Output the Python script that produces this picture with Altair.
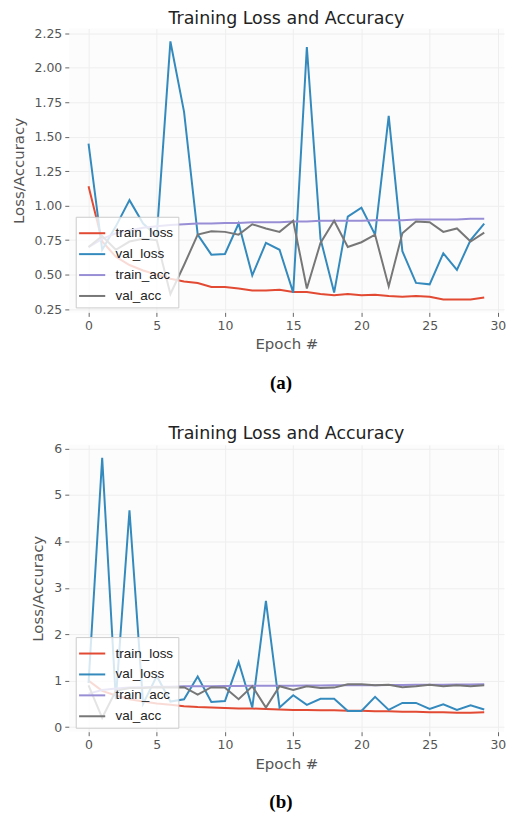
import altair as alt
import pandas as pd

epochs = list(range(30))
series_names = ["train_loss", "val_loss", "train_acc", "val_acc"]
series_colors = ["#E24A33", "#348ABD", "#988ED5", "#777777"]
x_ticks = [0, 5, 10, 15, 20, 25, 30]

# Panel (a)
a_train_loss = [1.14, 0.74, 0.63, 0.57, 0.53, 0.50, 0.47, 0.45, 0.44, 0.41,
                0.41, 0.40, 0.385, 0.385, 0.39, 0.375, 0.375, 0.36, 0.35, 0.36,
                0.35, 0.355, 0.345, 0.34, 0.345, 0.34, 0.32, 0.32, 0.32, 0.335]
a_val_loss = [1.45, 0.68, 0.85, 1.04, 0.87, 0.78, 2.19, 1.68, 0.79, 0.645,
              0.65, 0.87, 0.495, 0.73, 0.68, 0.37, 2.15, 0.76, 0.37, 0.92,
              0.985, 0.79, 1.65, 0.67, 0.44, 0.43, 0.655, 0.535, 0.75, 0.87]
a_train_acc = [0.70, 0.76, 0.80, 0.82, 0.84, 0.85, 0.86, 0.865, 0.87, 0.87,
               0.875, 0.875, 0.88, 0.88, 0.88, 0.885, 0.885, 0.89, 0.89, 0.89,
               0.89, 0.895, 0.895, 0.895, 0.90, 0.90, 0.90, 0.90, 0.905, 0.905]
a_val_acc = [0.70, 0.78, 0.68, 0.74, 0.76, 0.75, 0.36, 0.57, 0.79, 0.815,
             0.81, 0.79, 0.865, 0.835, 0.81, 0.89, 0.40, 0.73, 0.89, 0.70,
             0.735, 0.79, 0.415, 0.80, 0.885, 0.88, 0.81, 0.835, 0.74, 0.805]
a_y_ticks = [0.25, 0.5, 0.75, 1.0, 1.25, 1.5, 1.75, 2.0, 2.25]

# Panel (b)
b_train_loss = [1.00, 0.78, 0.68, 0.60, 0.55, 0.51, 0.48, 0.45, 0.43, 0.42,
                0.41, 0.40, 0.40, 0.39, 0.38, 0.37, 0.37, 0.36, 0.36, 0.35,
                0.35, 0.34, 0.34, 0.33, 0.33, 0.32, 0.32, 0.31, 0.31, 0.32]
b_val_loss = [0.95, 5.80, 0.60, 4.67, 0.50, 1.10, 0.55, 0.60, 1.09, 0.54,
              0.56, 1.40, 0.42, 2.72, 0.42, 0.685, 0.48, 0.61, 0.61, 0.345,
              0.345, 0.65, 0.37, 0.52, 0.52, 0.39, 0.49, 0.37, 0.47, 0.38]
b_train_acc = [0.72, 0.80, 0.83, 0.85, 0.86, 0.87, 0.87, 0.88, 0.88, 0.88,
               0.885, 0.885, 0.89, 0.89, 0.89, 0.89, 0.895, 0.895, 0.90, 0.90,
               0.90, 0.90, 0.905, 0.905, 0.91, 0.91, 0.91, 0.915, 0.915, 0.92]
b_val_acc = [0.90, 0.20, 0.78, 0.84, 0.84, 0.86, 0.85, 0.86, 0.70, 0.86,
             0.85, 0.60, 0.88, 0.42, 0.88, 0.80, 0.88, 0.84, 0.85, 0.92,
             0.92, 0.90, 0.91, 0.86, 0.88, 0.91, 0.88, 0.90, 0.88, 0.90]
b_y_ticks = [0, 1, 2, 3, 4, 5, 6]

W = 437


def panel(values, ydomain, yticks, yfmt, caption, H, legend_y):
    rows = []
    for name, vals in zip(series_names, values):
        for e, v in zip(epochs, vals):
            rows.append({"epoch": e, "value": v, "series": name})
    df = pd.DataFrame(rows)
    lines = alt.Chart(df).mark_line(strokeWidth=2, clip=True).encode(
        x=alt.X("epoch:Q",
                scale=alt.Scale(domain=[-1.45, 30.45], nice=False, zero=False),
                axis=alt.Axis(values=x_ticks, title="Epoch #", format="d")),
        y=alt.Y("value:Q",
                scale=alt.Scale(domain=ydomain, nice=False, zero=False),
                axis=alt.Axis(values=yticks, format=yfmt, title="Loss/Accuracy")),
        color=alt.Color("series:N",
                        scale=alt.Scale(domain=series_names, range=series_colors),
                        legend=alt.Legend(title=None, orient="none", legendX=7, legendY=legend_y,
                                          symbolType="M-1.25,0L1.25,0", symbolStrokeWidth=2,
                                          symbolSize=441, labelFontSize=13.5,
                                          labelColor="#222", fillColor="rgba(255,255,255,0.8)",
                                          strokeColor="#CCCCCC", padding=5,
                                          rowPadding=3, labelOffset=12)),
    )
    cap = alt.Chart(pd.DataFrame({"t": [caption]})).mark_text(
        font="Liberation Serif", fontWeight="bold", fontSize=19, baseline="middle",
        color="#000"
    ).encode(text="t:N", x=alt.value(213), y=alt.value(H + 71))
    return alt.layer(lines, cap).properties(
        width=W, height=H,
        title=alt.TitleParams("Training Loss and Accuracy", fontSize=17.5,
                              font="DejaVu Sans", fontWeight="normal",
                              color="#222", offset=0, anchor="middle"),
    )


pa = panel([a_train_loss, a_val_loss, a_train_acc, a_val_acc],
           [0.2265, 2.2835], a_y_ticks, ".2f", "(a)", 285, 189)
pb = panel([b_train_loss, b_val_loss, b_train_acc, b_val_acc],
           [-0.1, 6.08], b_y_ticks, "d", "(b)", 288, 193)

chart = alt.vconcat(pa, pb, spacing=32).resolve_scale(
    color="independent"
).resolve_legend(color="independent").properties(
    padding={"left": 3, "top": 0, "right": 0, "bottom": 0},
    background="white",
).configure_view(stroke=None, fill="#FCFCFC").configure_axis(
    grid=True, gridColor="#EEEEEE", gridWidth=1, domain=False,
    tickColor="#666", tickSize=4, tickWidth=1,
    labelColor="#555", labelFontSize=12.5, labelFont="DejaVu Sans", labelPadding=3,
    titleColor="#555", titleFontSize=15, titleFont="DejaVu Sans", titleFontWeight="normal",
).configure_axisY(titlePadding=8).configure_axisX(titlePadding=5)

chart.save("out.html", embed_options={"renderer": "svg", "actions": False})
